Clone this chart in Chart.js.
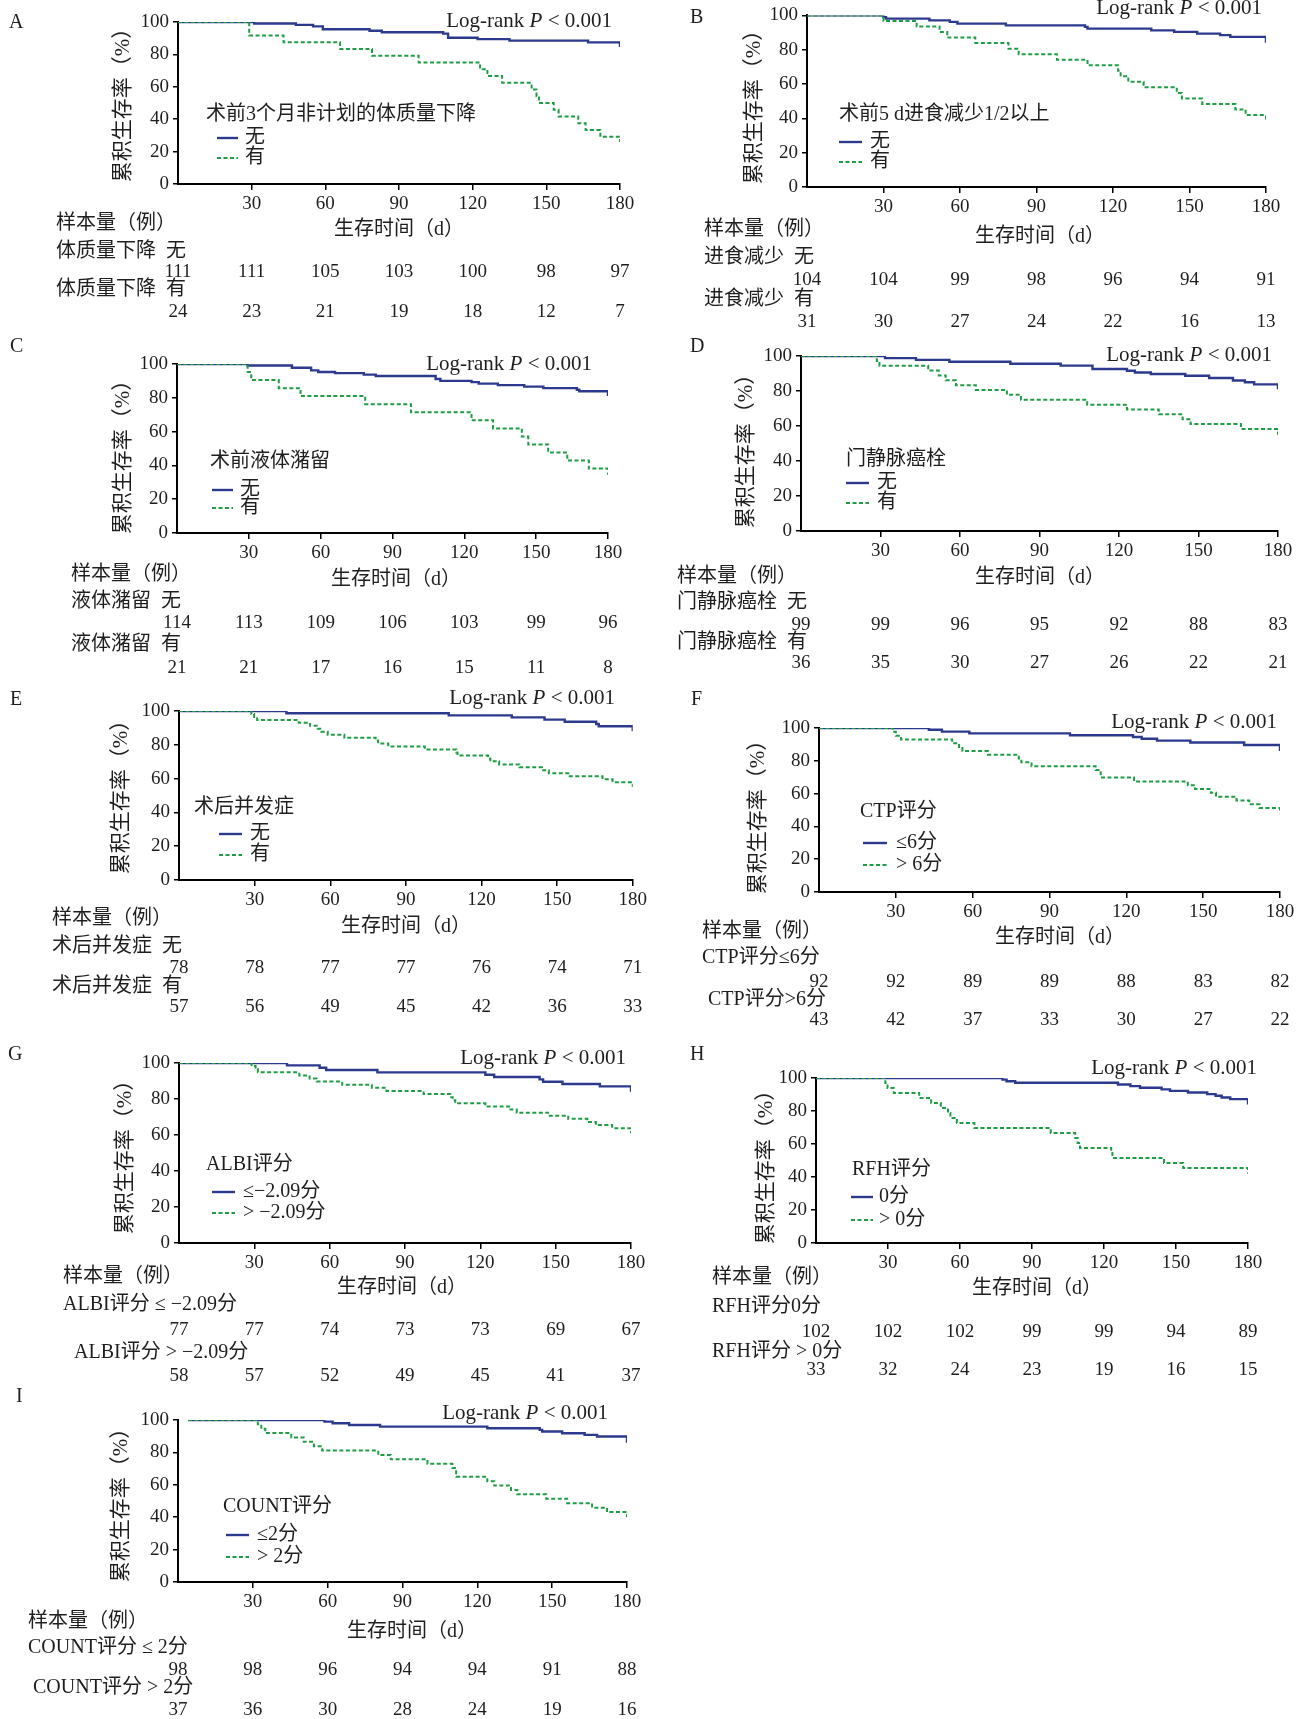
<!DOCTYPE html>
<html>
<head>
<meta charset="utf-8">
<script src="https://cdn.jsdelivr.net/npm/chart.js@4.4.0/dist/chart.umd.min.js"></script>
<style>
  body { margin: 0; background: #fff; width: 1306px; height: 1719px; position: relative; overflow: hidden; }
  canvas { position: absolute; }
</style>
</head>
<body>
<script>
// axis ticks and risk-table days
const xTicks = [30, 60, 90, 120, 150, 180];
const yTicks = [0, 20, 40, 60, 80, 100];
const riskDays = [0, 30, 60, 90, 120, 150, 180];

// KM steps: [day, survival %]
const A_no = [[0,100],[31,99.1],[48,98.2],[55,97.3],[59,95.5],[78,94.6],[83,93.7],[108,92.8],[110,90.3],[122,89.4],[135,88.5],[167,87.4],[180,84.5]];
const A_yes = [[0,100],[29,91.7],[43,87.5],[66,83.3],[79,79.2],[98,75],[123,70.8],[126,66.7],[132,62.5],[144,58.3],[146,54.2],[147,50],[153,45.8],[155,41.7],[163,37.5],[166,33.3],[172,29.2],[180,26]];
const B_no = [[0,100],[30,99],[31,98.1],[48,97.1],[56,96.2],[59,95.2],[78,94.2],[109,93.3],[110,92.3],[135,91.3],[144,90.4],[153,89.4],[162,88.5],[166,87.5],[180,84]];
const B_yes = [[0,100],[30,96.8],[43,93.5],[52,90.3],[55,87.1],[66,83.9],[79,80.6],[83,77.4],[98,74.2],[110,71],[122,67.7],[123,64.5],[126,61.3],[132,58.1],[145,54.8],[147,51.6],[155,48.4],[168,45.2],[172,41.9],[180,38.5]];
const C_no = [[0,100],[29.5,99.1],[48,97.8],[56,96.2],[59,95.3],[66,94.6],[78,93.7],[83,92.9],[108,91.1],[110,90],[123,89.3],[126,88.4],[134,87.5],[145,86.6],[153,85.7],[167,84.8],[168,83.9],[180,81]];
const C_yes = [[0,100],[29.5,95.2],[31,90.5],[42.5,85.7],[51.6,81],[78.6,76.2],[97.7,71.4],[123,66.7],[132,61.9],[144,57.1],[146.7,52.4],[155,47.6],[163,42.9],[172,38.1],[180,34.5]];
const D_no = [[0,100],[31.7,98.8],[43.4,97.8],[56,96.7],[79,95.6],[98,94.5],[110,92.6],[123,91.6],[126,90.6],[132,89.7],[145,88.7],[154,87.4],[163,86],[167.5,85],[171,83.8],[180,81]];
const D_yes = [[0,100],[28.6,97.2],[29.6,94.4],[48,91.7],[52,88.9],[54.6,86.1],[58.5,83.3],[66,80.6],[77.7,77.8],[83,75],[108,72.2],[123,69.4],[135,66.7],[144,63.9],[147,61.1],[166,58.3],[180,55]];
const E_no = [[0,100],[42.6,98.7],[107,97.4],[132,96.2],[145,94.9],[153,93.6],[165.5,92.3],[166.5,91],[180,88]];
const E_yes = [[0,100],[28.7,98.2],[29.8,96.5],[31,94.7],[47.5,93],[52,91.2],[55,89.5],[56.5,87.7],[59,86],[65.6,84.2],[78,82.5],[79,80.7],[83,79],[97.5,77.2],[110,75.4],[110.5,73.7],[122.6,71.9],[123.5,70.2],[127,68.4],[135,66.7],[144,64.9],[146.7,63.2],[155,61.4],[168,59.6],[172,57.9],[180,55]];
const F_no = [[0,100],[42.9,98.9],[48,97.8],[58.7,96.7],[98,95.6],[122.6,94.5],[126,93.4],[132,92.3],[145,91.2],[166,89.6],[180,86]];
const F_yes = [[0,100],[28.8,97.7],[30,95.3],[32,93],[52,90.7],[54.7,88.4],[56,86],[66,83.7],[78,81.4],[79,79.1],[83,76.7],[108,74.4],[110,69.8],[123,67.4],[144,65.1],[146.8,62.8],[153,60.5],[155,58.1],[163,55.8],[168,53.5],[172,51.2],[180,48]];
const G_no = [[0,100],[43,98.7],[56,97.4],[58.6,96.1],[79,94.8],[122,93.5],[125.5,92.2],[143.6,90.9],[145,89.6],[152.7,88.3],[167.6,87],[180,84]];
const G_yes = [[0,100],[28.9,98.3],[30.5,96.6],[31.4,94.8],[47.9,93.1],[52,91.4],[54.8,89.7],[65,87.9],[76.8,86.2],[82.6,84.5],[97.4,82.8],[108,81],[109,79.3],[110,77.6],[122,75.9],[132,74.1],[134.5,72.4],[147,70.7],[155,69],[162.6,67.2],[166,65.5],[172.5,63.8],[180,61]];
const H_no = [[0,100],[77.7,99],[79.4,98],[83,97.1],[125.8,96.1],[131,95.1],[135,94.1],[144,93.1],[147.5,92.2],[155,91.2],[163,90.2],[166.5,89.2],[169,88.2],[172.6,87.2],[180,84]];
const H_yes = [[0,100],[28.9,97],[29.8,93.9],[32.4,90.9],[43,87.9],[48,84.8],[52,81.8],[55,78.8],[56,75.8],[58.7,72.7],[66,69.7],[97.8,66.7],[108,63.6],[109,60.6],[110,57.6],[123,54.5],[123.5,51.5],[145,48.5],[153,45.5],[180,42]];
const I_no = [[4,100],[58.7,99],[62,98],[68.6,96.9],[81,95.9],[124,94.9],[145,93.9],[146,92.9],[154,91.8],[163,90.8],[168,89.8],[180,86]];
const I_yes = [[4,100],[32,97.3],[33.4,94.6],[35,91.9],[45.4,89.2],[50.4,86.5],[54.5,83.8],[57.8,81.1],[80.3,78.4],[85.3,75.7],[100,73],[110,70.3],[111.5,64.9],[124,62.2],[126.8,59.5],[133.5,56.8],[136,54.1],[147.6,51.4],[156,48.6],[166,45.9],[172,43.2],[180,40]];

// numbers at risk
const A_riskNo = [111,111,105,103,100,98,97],  A_riskYes = [24,23,21,19,18,12,7];
const B_riskNo = [104,104,99,98,96,94,91],     B_riskYes = [31,30,27,24,22,16,13];
const C_riskNo = [114,113,109,106,103,99,96],  C_riskYes = [21,21,17,16,15,11,8];
const D_riskNo = [99,99,96,95,92,88,83],       D_riskYes = [36,35,30,27,26,22,21];
const E_riskNo = [78,78,77,77,76,74,71],       E_riskYes = [57,56,49,45,42,36,33];
const F_riskNo = [92,92,89,89,88,83,82],       F_riskYes = [43,42,37,33,30,27,22];
const G_riskNo = [77,77,74,73,73,69,67],       G_riskYes = [58,57,52,49,45,41,37];
const H_riskNo = [102,102,102,99,99,94,89],    H_riskYes = [33,32,24,23,19,16,15];
const I_riskNo = [98,98,96,94,94,91,88],       I_riskYes = [37,36,30,28,24,19,16];

// texts
const letters = ['A','B','C','D','E','F','G','H','I'];
const legendTitles = ['术前3个月非计划的体质量下降','术前5 d进食减少1/2以上','术前液体潴留','门静脉癌栓','术后并发症','CTP评分','ALBI评分','RFH评分','COUNT评分'];
const groupNames = [['无','有'],['无','有'],['无','有'],['无','有'],['无','有'],['≤6分','> 6分'],['≤−2.09分','> −2.09分'],['0分','> 0分'],['≤2分','> 2分']];
const riskLabels = [
  ['体质量下降  无','体质量下降  有'],
  ['进食减少  无','进食减少  有'],
  ['液体潴留  无','液体潴留  有'],
  ['门静脉癌栓  无','门静脉癌栓  有'],
  ['术后并发症  无','术后并发症  有'],
  ['CTP评分≤6分','CTP评分>6分'],
  ['ALBI评分 ≤ −2.09分','ALBI评分 > −2.09分'],
  ['RFH评分0分','RFH评分 > 0分'],
  ['COUNT评分 ≤ 2分','COUNT评分 > 2分']
];
const yTitle = '累积生存率（%）';
const xTitle = '生存时间（d）';
const riskHeader = '样本量（例）';

const SERIF = '"Liberation Serif", "Noto Sans CJK SC", serif';
const BLUE = '#2c3a8e';
const GREEN = '#1f9d45';
const INK = '#1e1e1e';

// layout (page pixels)
const panels = [
  { box:[0,0,650,336], plot:[178,22,620,184], no:A_no, yes:A_yes, rNo:A_riskNo, rYes:A_riskYes,
    letter:[9,23], logrank:[612,21], yt:[123,100], lg:{tx:206,ty:115,lx0:217,lx1:238,gx:245,y1:138,y2:158}, xt:[399,230],
    rk:{hx:56,hy:224,l1x:56,l1y:252,n1y:272,l2x:56,l2y:290,n2y:312} },
  { box:[656,0,650,336], plot:[807,15,1266,187], no:B_no, yes:B_yes, rNo:B_riskNo, rYes:B_riskYes,
    letter:[690,18], logrank:[1262,8], yt:[754,102], lg:{tx:839,ty:115,lx0:839,lx1:862,gx:870,y1:142,y2:162}, xt:[1040,237],
    rk:{hx:704,hy:230,l1x:704,l1y:258,n1y:280,l2x:704,l2y:300,n2y:322} },
  { box:[0,336,650,344], plot:[177,364,608,533], no:C_no, yes:C_yes, rNo:C_riskNo, rYes:C_riskYes,
    letter:[10,347], logrank:[592,364], yt:[123,452], lg:{tx:210,ty:462,lx0:212,lx1:233,gx:240,y1:490,y2:508}, xt:[396,580],
    rk:{hx:71,hy:575,l1x:71,l1y:602,n1y:623,l2x:71,l2y:645,n2y:668} },
  { box:[656,336,650,344], plot:[801,356,1278,531], no:D_no, yes:D_yes, rNo:D_riskNo, rYes:D_riskYes,
    letter:[690,347], logrank:[1272,355], yt:[746,446], lg:{tx:846,ty:460,lx0:846,lx1:869,gx:877,y1:483,y2:503}, xt:[1040,578],
    rk:{hx:677,hy:577,l1x:677,l1y:603,n1y:625,l2x:677,l2y:643,n2y:663} },
  { box:[0,680,650,352], plot:[179,711,635,880], no:E_no, yes:E_yes, rNo:E_riskNo, rYes:E_riskYes,
    letter:[10,700], logrank:[615,698], yt:[121,792], lg:{tx:194,ty:808,lx0:219,lx1:242,gx:250,y1:834,y2:855}, xt:[406,927],
    rk:{hx:52,hy:919,l1x:52,l1y:947,n1y:968,l2x:52,l2y:987,n2y:1007} },
  { box:[656,680,650,352], plot:[819,728,1280,892], no:F_no, yes:F_yes, rNo:F_riskNo, rYes:F_riskYes,
    letter:[691,700], logrank:[1277,722], yt:[758,812], lg:{tx:860,ty:812,lx0:863,lx1:887,gx:896,y1:843,y2:865}, xt:[1060,938],
    rk:{hx:702,hy:932,l1x:702,l1y:958,n1y:982,l2x:708,l2y:1000,n2y:1020} },
  { box:[0,1030,650,352], plot:[179,1063,631,1243], no:G_no, yes:G_yes, rNo:G_riskNo, rYes:G_riskYes,
    letter:[8,1055], logrank:[626,1058], yt:[125,1152], lg:{tx:206,ty:1165,lx0:212,lx1:235,gx:243,y1:1192,y2:1213}, xt:[402,1288],
    rk:{hx:63,hy:1277,l1x:63,l1y:1305,n1y:1330,l2x:74,l2y:1353,n2y:1376} },
  { box:[656,1030,650,352], plot:[816,1078,1248,1243], no:H_no, yes:H_yes, rNo:H_riskNo, rYes:H_riskYes,
    letter:[690,1055], logrank:[1257,1068], yt:[766,1162], lg:{tx:852,ty:1170,lx0:851,lx1:873,gx:879,y1:1197,y2:1220}, xt:[1037,1289],
    rk:{hx:712,hy:1278,l1x:712,l1y:1307,n1y:1332,l2x:712,l2y:1352,n2y:1370} },
  { box:[0,1380,650,339], plot:[178,1420,627,1582], no:I_no, yes:I_yes, rNo:I_riskNo, rYes:I_riskYes,
    letter:[16,1397], logrank:[608,1413], yt:[121,1500], lg:{tx:223,ty:1507,lx0:226,lx1:249,gx:257,y1:1535,y2:1557}, xt:[412,1632],
    rk:{hx:28,hy:1622,l1x:28,l1y:1648,n1y:1670,l2x:33,l2y:1688,n2y:1710} }
];

const Y_W = 44, X_H = 34;

function drawTexts(chart, p, i) {
  const ctx = chart.ctx;
  const ox = p.box[0], oy = p.box[1];
  const xs = chart.scales.x;
  ctx.save();
  ctx.fillStyle = INK;
  ctx.textBaseline = 'middle';

  // panel letter
  ctx.textAlign = 'left';
  ctx.font = '20px ' + SERIF;
  ctx.fillText(letters[i], p.letter[0] - ox, p.letter[1] - oy);

  // Log-rank P < 0.001 (P in italics)
  ctx.font = '21px ' + SERIF;
  const a = 'Log-rank ', c = ' < 0.001';
  const wa = ctx.measureText(a).width, wc = ctx.measureText(c).width;
  ctx.font = 'italic 21px ' + SERIF;
  const wb = ctx.measureText('P').width;
  let x = p.logrank[0] - ox - (wa + wb + wc);
  const ly = p.logrank[1] - oy;
  ctx.font = '21px ' + SERIF;
  ctx.fillText(a, x, ly);
  ctx.font = 'italic 21px ' + SERIF;
  ctx.fillText('P', x + wa, ly);
  ctx.font = '21px ' + SERIF;
  ctx.fillText(c, x + wa + wb, ly);

  // y title
  ctx.save();
  ctx.translate(p.yt[0] - ox, p.yt[1] - oy);
  ctx.rotate(-Math.PI / 2);
  ctx.textAlign = 'center';
  ctx.font = '21px ' + SERIF;
  ctx.fillText(yTitle, 0, 0);
  ctx.restore();

  // legend
  const lg = p.lg;
  ctx.textAlign = 'left';
  ctx.font = '20px ' + SERIF;
  ctx.fillText(legendTitles[i], lg.tx - ox, lg.ty - oy);
  ctx.lineWidth = 2.4;
  ctx.strokeStyle = BLUE;
  ctx.setLineDash([]);
  ctx.beginPath();
  ctx.moveTo(lg.lx0 - ox, lg.y1 - oy);
  ctx.lineTo(lg.lx1 - ox, lg.y1 - oy);
  ctx.stroke();
  ctx.lineWidth = 2;
  ctx.strokeStyle = GREEN;
  ctx.setLineDash([4, 2.5]);
  ctx.beginPath();
  ctx.moveTo(lg.lx0 - ox, lg.y2 - oy);
  ctx.lineTo(lg.lx1 - ox, lg.y2 - oy);
  ctx.stroke();
  ctx.setLineDash([]);
  ctx.fillText(groupNames[i][0], lg.gx - ox, lg.y1 - oy);
  ctx.fillText(groupNames[i][1], lg.gx - ox, lg.y2 - oy);

  // x title
  ctx.textAlign = 'center';
  ctx.fillText(xTitle, p.xt[0] - ox, p.xt[1] - oy);

  // risk table
  const rk = p.rk;
  ctx.textAlign = 'left';
  ctx.fillText(riskHeader, rk.hx - ox, rk.hy - oy);
  ctx.fillText(riskLabels[i][0], rk.l1x - ox, rk.l1y - oy);
  ctx.fillText(riskLabels[i][1], rk.l2x - ox, rk.l2y - oy);
  ctx.textAlign = 'center';
  ctx.font = '19px ' + SERIF;
  riskDays.forEach((d, k) => {
    const px = xs.getPixelForValue(d);
    ctx.fillText(String(p.rNo[k]), px, rk.n1y - oy);
    ctx.fillText(String(p.rYes[k]), px, rk.n2y - oy);
  });
  ctx.restore();
}

function makePanel(p, i) {
  const cv = document.createElement('canvas');
  cv.width = p.box[2];
  cv.height = p.box[3];
  cv.style.left = p.box[0] + 'px';
  cv.style.top = p.box[1] + 'px';
  cv.style.width = p.box[2] + 'px';
  cv.style.height = p.box[3] + 'px';
  document.body.appendChild(cv);

  const tickFont = { family: SERIF, size: 19 };
  new Chart(cv.getContext('2d'), {
    type: 'line',
    data: {
      datasets: [
        { data: p.no.map(d => ({ x: d[0], y: d[1] })), borderColor: BLUE, borderWidth: 2.4,
          stepped: true, pointRadius: 0, fill: false, order: 1 },
        { data: p.yes.map(d => ({ x: d[0], y: d[1] })), borderColor: GREEN, borderWidth: 2,
          borderDash: [4, 2.5], stepped: true, pointRadius: 0, fill: false, order: 0 }
      ]
    },
    options: {
      responsive: false,
      animation: false,
      devicePixelRatio: 1,
      layout: {
        padding: {
          left: p.plot[0] - p.box[0] - Y_W,
          top: p.plot[1] - p.box[1],
          right: p.box[0] + p.box[2] - p.plot[2],
          bottom: p.box[1] + p.box[3] - p.plot[3] - X_H
        }
      },
      plugins: { legend: { display: false }, tooltip: { enabled: false } },
      scales: {
        x: {
          type: 'linear', min: 0, max: 180,
          afterBuildTicks: s => { s.ticks = xTicks.map(v => ({ value: v })); },
          afterFit: s => { s.height = X_H; },
          grid: { drawOnChartArea: false, drawTicks: true, tickLength: 6, color: '#000', lineWidth: 1.5 },
          border: { display: true, color: '#000', width: 2 },
          ticks: { color: INK, font: tickFont, padding: 3, maxRotation: 0, autoSkip: false }
        },
        y: {
          type: 'linear', min: 0, max: 100,
          afterBuildTicks: s => { s.ticks = yTicks.map(v => ({ value: v })); },
          afterFit: s => { s.width = Y_W; },
          grid: { drawOnChartArea: false, drawTicks: true, tickLength: 5, color: '#000', lineWidth: 1.5 },
          border: { display: true, color: '#000', width: 2 },
          ticks: { color: INK, font: tickFont, padding: 4, autoSkip: false }
        }
      }
    },
    plugins: [{ id: 'panelText' + i, afterDraw: chart => drawTexts(chart, p, i) }]
  });
}

panels.forEach(makePanel);
</script>
</body>
</html>
